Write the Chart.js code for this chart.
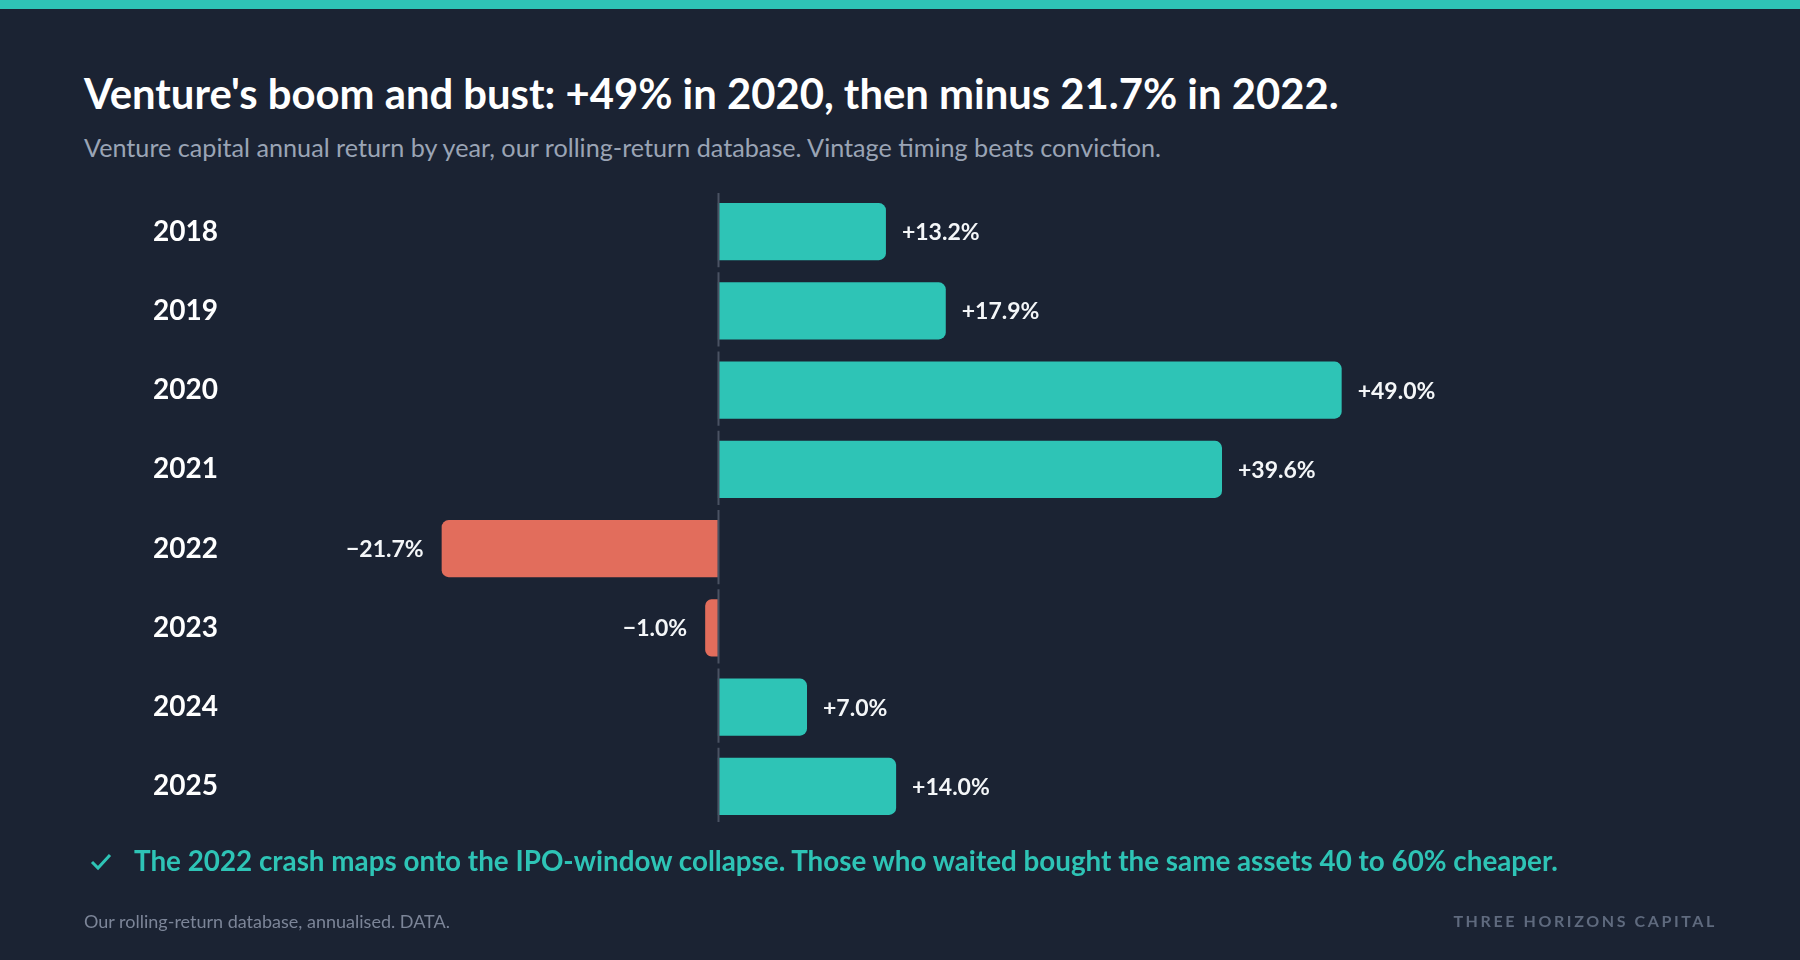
<!DOCTYPE html>
<html>
<head>
<meta charset="utf-8">
<script src="https://cdn.jsdelivr.net/npm/chart.js@4/dist/chart.umd.min.js"></script>
<style>
  html, body { margin: 0; padding: 0; }
  body {
    width: 1800px; height: 960px; overflow: hidden; position: relative;
    background: #1b2333; font-family: Lato, "Noto Sans", sans-serif;
  }
  .topbar { position: absolute; left: 0; top: 0; width: 1800px; height: 9px; background: #2ec4b6; }
  .abs { position: absolute; line-height: 1; white-space: nowrap; }
  #title { left: 84px; top: 73px; font-size: 41.8px; font-weight: 700; color: #ffffff; }
  #subtitle { left: 84px; top: 135px; font-size: 25.2px; color: #9aa4b5; }
  #note { left: 134px; top: 847px; font-size: 27.8px; font-weight: 700; color: #2ec4b6; }
  #check { position: absolute; left: 90px; top: 853px; }
  #source { left: 84px; top: 912px; font-size: 18px; color: #7c8598; }
  #brand { right: 83px; top: 913px; font-size: 16px; font-weight: 700; color: #5f6a7e; letter-spacing: 2.6px; }
  #wrap { position: absolute; left: 0; top: 0; width: 1800px; height: 960px; }
</style>
</head>
<body>
<div class="topbar"></div>
<div id="title" class="abs">Venture's boom and bust: +49% in 2020, then minus 21.7% in 2022.</div>
<div id="subtitle" class="abs">Venture capital annual return by year, our rolling-return database. Vintage timing beats conviction.</div>
<div id="wrap"><canvas id="bars"></canvas></div>
<svg id="check" width="22" height="18" viewBox="0 0 22 18"><polyline points="2,9 8,15 20,2" fill="none" stroke="#2ec4b6" stroke-width="3"/></svg>
<div id="note" class="abs">The 2022 crash maps onto the IPO-window collapse. Those who waited bought the same assets 40 to 60% cheaper.</div>
<div id="source" class="abs">Our rolling-return database, annualised. DATA.</div>
<div id="brand" class="abs">THREE HORIZONS CAPITAL</div>

<script>
const years = ["2018", "2019", "2020", "2021", "2022", "2023", "2024", "2025"];
const returns = [13.2, 17.9, 49.0, 39.6, -21.7, -1.0, 7.0, 14.0];

const TEAL = "#2ec4b6";
const CORAL = "#e26d5c";

function fmt(v) {
  const s = Math.abs(v).toFixed(1) + "%";
  return v < 0 ? "\u2212" + s : "+" + s;
}

// dashed zero line, one segment per year row
const zeroLine = {
  id: "zeroLine",
  afterDatasetsDraw(chart) {
    const { ctx, scales: { x, y } } = chart;
    const x0 = Math.round(x.getPixelForValue(0)) + 0.5;
    const band = (y.bottom - y.top) / years.length;
    ctx.save();
    ctx.strokeStyle = "#4a5263";
    ctx.lineWidth = 2;
    years.forEach((_, i) => {
      const top = y.top + band * i;
      ctx.beginPath();
      ctx.moveTo(x0, top + 1);
      ctx.lineTo(x0, top + band - 4);
      ctx.stroke();
    });
    ctx.restore();
  },
};

// value labels at bar ends
const valueLabels = {
  id: "valueLabels",
  afterDatasetsDraw(chart) {
    const { ctx } = chart;
    const meta = chart.getDatasetMeta(0);
    ctx.save();
    ctx.font = "700 23px Lato";
    ctx.fillStyle = "#f4f6f8";
    ctx.textBaseline = "middle";
    meta.data.forEach((bar, i) => {
      const v = returns[i];
      if (v < 0) {
        ctx.textAlign = "right";
        ctx.fillText(fmt(v), bar.x - 18, bar.y + 1);
      } else {
        ctx.textAlign = "left";
        ctx.fillText(fmt(v), bar.x + 16, bar.y + 1);
      }
    });
    ctx.restore();
  },
};

new Chart(document.getElementById("bars"), {
  type: "bar",
  data: {
    labels: years,
    datasets: [{
      data: returns,
      backgroundColor: returns.map(v => (v < 0 ? CORAL : TEAL)),
      borderRadius: 7,
      barPercentage: 0.72,
      categoryPercentage: 1,
    }],
  },
  options: {
    indexAxis: "y",
    responsive: true,
    maintainAspectRatio: false,
    animation: false,
    layout: { padding: { top: 192, bottom: 134, left: 153, right: 191 } },
    plugins: { legend: { display: false }, tooltip: { enabled: false } },
    scales: {
      x: { display: false, min: -30, max: 70 },
      y: {
        grid: { display: false },
        border: { display: false },
        afterFit(scale) { scale.width = 183; },
        ticks: {
          crossAlign: "far",
          padding: 0,
          color: "#ffffff",
          font: { family: "Lato", size: 28, weight: "700" },
        },
      },
    },
  },
  plugins: [zeroLine, valueLabels],
});
</script>
</body>
</html>
